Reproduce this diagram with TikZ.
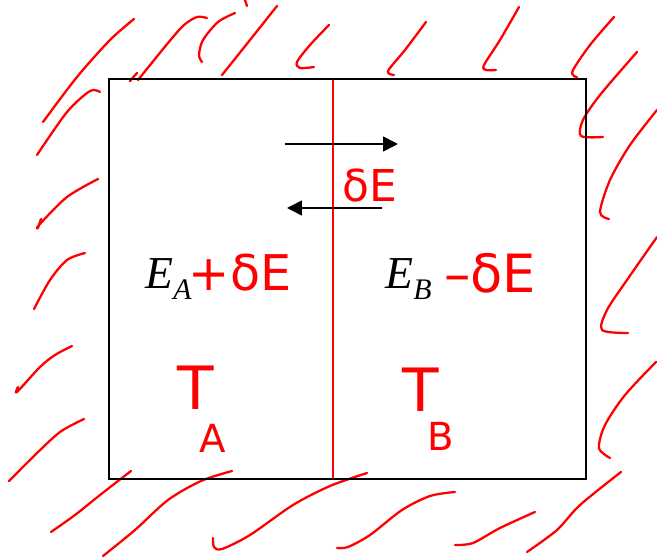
\documentclass[tikz,border=0pt]{standalone}
\usepackage{fontspec}
\setmainfont{Liberation Serif}
\newfontfamily\handfont{DejaVu Sans}
\usepackage{tikz}
\usetikzlibrary{arrows.meta,positioning}
\definecolor{inkRed}{RGB}{255,0,0}
\newcommand{\energyof}[1]{\textit{E}\raisebox{-0.22em}{\fontsize{17pt}{17pt}\selectfont\textit{#1}}}

\begin{document}
\begin{tikzpicture}[x=0.02cm,y=-0.02cm,
    wall/.style={inkRed,line width=1.3pt,line cap=round,line join=round},
    flow/.style={-{Triangle[length=0.3cm,width=0.3cm]},line width=0.9pt},
    hand/.style={inkRed,inner sep=0pt,font=\handfont\fontsize{#1}{#1}\selectfont},
    sym/.style={anchor=base west,inner sep=0pt,font=\fontsize{26pt}{26pt}\selectfont}]
  \useasboundingbox (0,0) rectangle (657,560);
  % insulating wall, top
  \draw[wall] plot[smooth] coordinates {(134,19) (110,40) (77,77) (43,122)};
  \draw[wall] (130,81) -- (137,73);
  \draw[wall] plot[smooth] coordinates {(138,80) (168,43) (184,25) (197,17) (207,18)};
  \draw[wall] plot[smooth] coordinates {(235,13) (218,22) (203,40) (199,55) (202,62)};
  \draw[wall] plot[smooth] coordinates {(277,6) (250,40) (222,75)};
  \draw[wall] (245,0) -- (247,6);
  \draw[wall] plot[smooth] coordinates {(329,25) (310,45) (297,62) (300,68) (314,67)};
  \draw[wall] plot[smooth] coordinates {(426,22) (405,50) (388,71) (394,75)};
  \draw[wall] plot[smooth] coordinates {(519,7) (500,40) (484,65) (486,70) (496,70)};
  \draw[wall] plot[smooth] coordinates {(614,17) (590,45) (573,70) (574,76) (577,77)};
  % right
  \draw[wall] plot[smooth] coordinates {(637,52) (600,95) (583,120) (581,136) (603,137)};
  \draw[wall] plot[smooth] coordinates {(657,110) (630,145) (610,180) (600,212) (609,219)};
  \draw[wall] plot[smooth] coordinates {(657,237) (627,280) (607,310) (602,330) (628,333)};
  \draw[wall] plot[smooth] coordinates {(656,362) (625,395) (605,425) (599,448) (610,458)};
  % bottom
  \draw[wall] plot[smooth] coordinates {(621,472) (580,505) (557,530) (527,552)};
  \draw[wall] plot[smooth] coordinates {(535,512) (500,528) (473,543) (455,545)};
  \draw[wall] plot[smooth] coordinates {(455,492) (430,496) (402,510) (370,535) (348,547) (337,548)};
  \draw[wall] plot[smooth] coordinates {(367,473) (330,486) (293,505) (250,535) (222,549) (214,547) (213,538)};
  \draw[wall] plot[smooth] coordinates {(232,471) (201,481) (168,500) (135,530) (103,556)};
  \draw[wall] plot[smooth] coordinates {(131,471) (100,495) (75,515) (51,532)};
  % left
  \draw[wall] plot[smooth] coordinates {(84,419) (60,432) (35,455) (9,481)};
  \draw[wall] plot[smooth] coordinates {(72,346) (55,355) (40,367) (17,392) (18,387)};
  \draw[wall] plot[smooth] coordinates {(85,253) (67,260) (50,280) (34,309)};
  \draw[wall] plot[smooth] coordinates {(98,179) (67,197) (39,225) (38,228) (41,219)};
  \draw[wall] plot[smooth] coordinates {(100,92) (90,91) (67,112) (37,155)};

  % the two subsystems
  \coordinate (wallTop) at (333,79);
  \coordinate (wallBot) at (333,479);
  \draw[inkRed,line width=0.8pt] (wallTop) -- (wallBot);
  \draw[line width=1.2pt] (109,79) rectangle (586,479);

  % energy exchange
  \coordinate (toB0) at (285,144);
  \coordinate (toB1) at (398,144);
  \coordinate (toA0) at (382,208);
  \coordinate (toA1) at (287,208);
  \draw[flow] (toB0) -- (toB1);
  \draw[flow] (toA0) -- (toA1);
  \node[hand=25pt] (dE) at (370,186) {δE};

  % energies
  \node[sym] (EA) at (145,289) {\energyof{A}};
  \node[hand=28pt] (EAplus) at (240,273) {+δE};
  \node[sym] (EB) at (385,289) {\energyof{B}};
  \node[hand=30pt] (EBminus) at (490,273) {–δE};

  % temperatures
  \node[hand=34pt] (TA) at (196,388) {T};
  \node[hand=22pt] (TAsub) at (213,438) {A};
  \node[hand=34pt] (TB) at (421,390) {T};
  \node[hand=22pt] (TBsub) at (441,436) {B};
\end{tikzpicture}
\end{document}
